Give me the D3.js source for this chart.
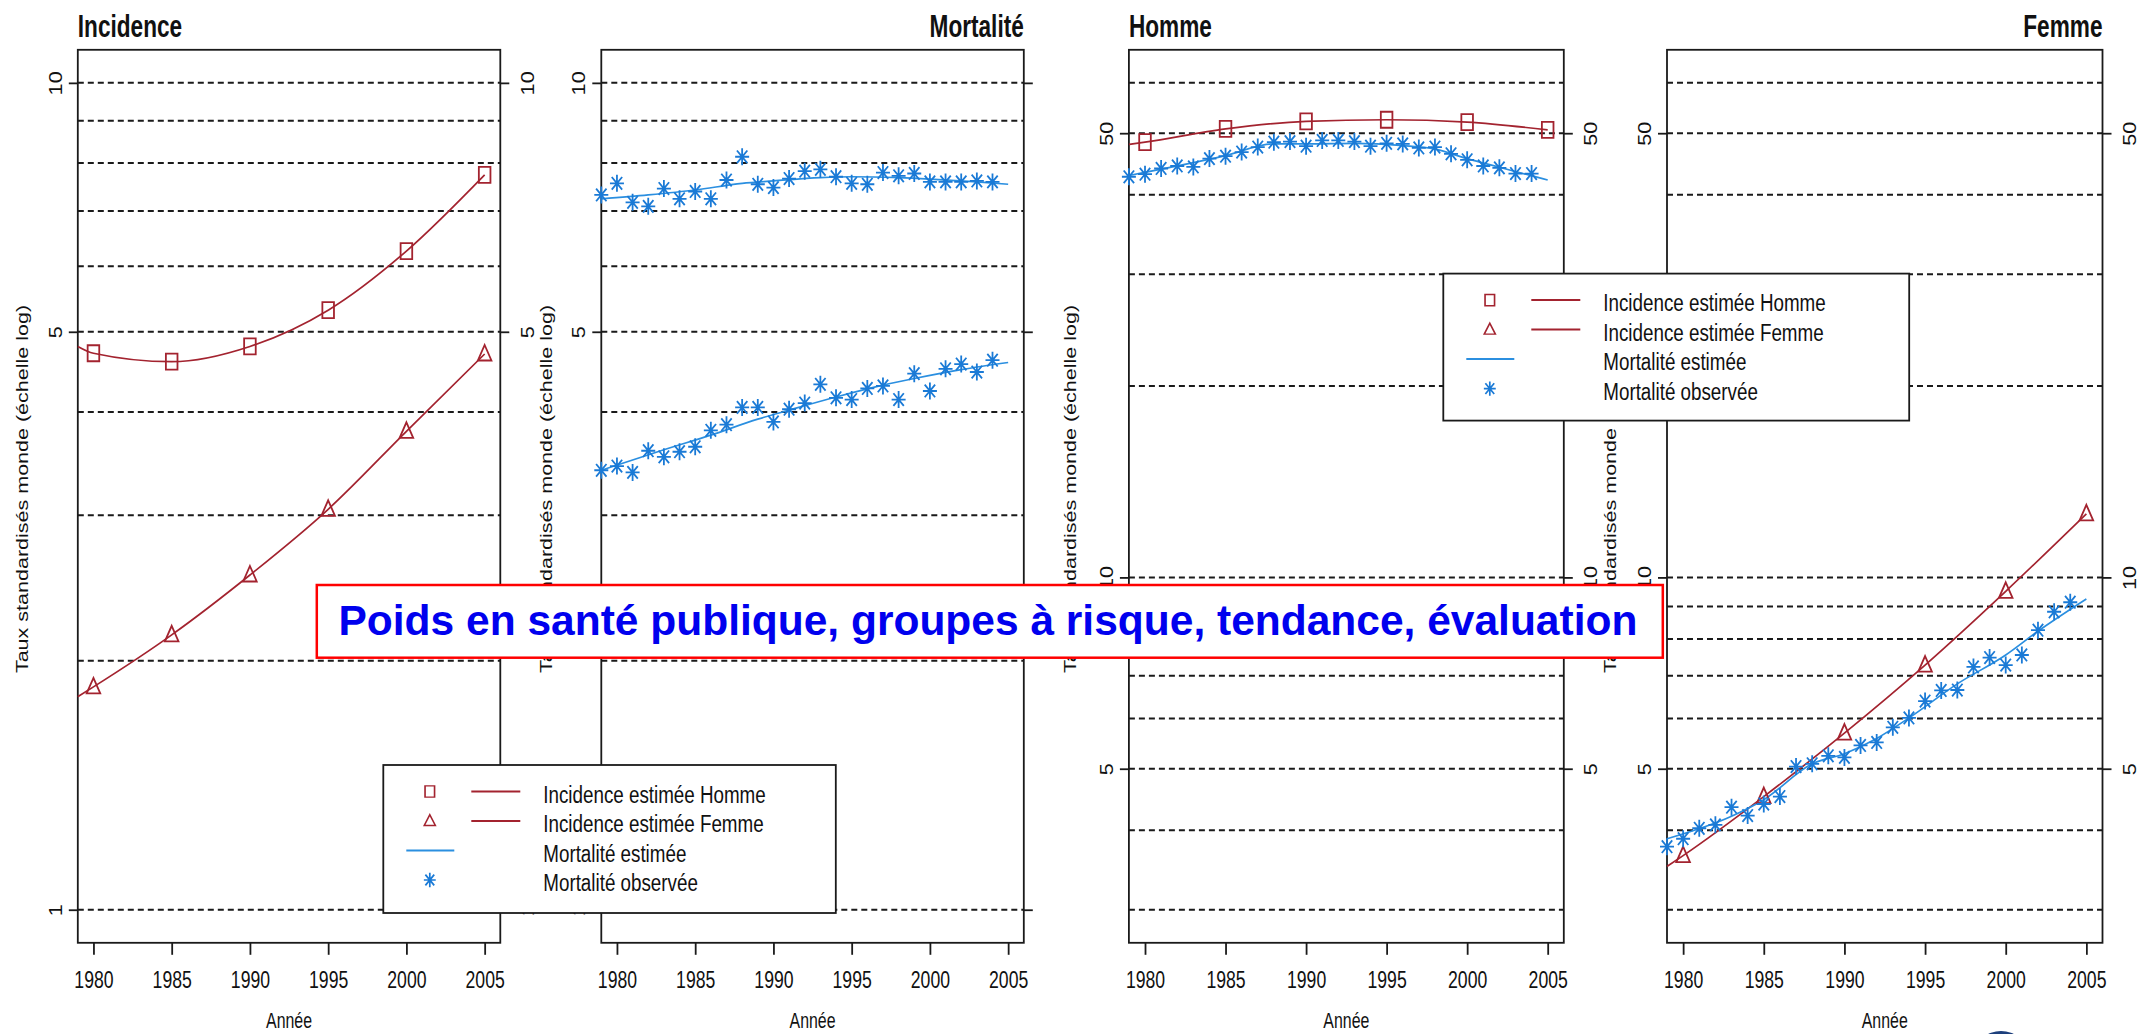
<!DOCTYPE html>
<html>
<head>
<meta charset="utf-8">
<script src="https://cdn.jsdelivr.net/npm/d3@7"></script>
<style>
  html, body { margin: 0; padding: 0; background: #fff; }
  svg { display: block; }
  text { font-family: "Liberation Sans", Arial, sans-serif; fill: #111; }
</style>
</head>
<body>
<div id="chart"></div>
<script>
// ---- Données ----
const anneesTicks = [1980, 1985, 1990, 1995, 2000, 2005];
const anneesInc = [1980, 1985, 1990, 1995, 2000, 2005];
const anneesIncLigne = [1979, 1980, 1985, 1990, 1995, 2000, 2005];
const anneesObs = [1979, 1980, 1981, 1982, 1983, 1984, 1985, 1986, 1987, 1988, 1989, 1990, 1991,
                   1992, 1993, 1994, 1995, 1996, 1997, 1998, 1999, 2000, 2001, 2002, 2003, 2004];

// Panneau Incidence (France)
const incHomme = [4.71, 4.60, 4.80, 5.31, 6.26, 7.74];
const incHommeLigne = [4.80, 4.71, 4.60, 4.80, 5.31, 6.26, 7.74];
const incFemme = [1.86, 2.15, 2.54, 3.05, 3.79, 4.70];
const incFemmeLigne = [1.81, 1.86, 2.15, 2.54, 3.05, 3.79, 4.70];

// Panneau Mortalité
const mortHommeObs = [7.32, 7.56, 7.17, 7.09, 7.45, 7.24, 7.39, 7.24, 7.63, 8.14, 7.54, 7.47, 7.66,
                      7.82, 7.86, 7.70, 7.56, 7.54, 7.79, 7.72, 7.77, 7.59, 7.59, 7.59, 7.61, 7.59];
const mortHommeEstAnnees = [1979, 1982, 1985, 1988, 1990, 1993, 1995, 1998, 2000, 2003, 2005];
const mortHommeEst = [7.24, 7.32, 7.42, 7.56, 7.61, 7.68, 7.70, 7.68, 7.65, 7.59, 7.54];
const mortFemmeObs = [3.40, 3.44, 3.38, 3.59, 3.53, 3.58, 3.63, 3.80, 3.86, 4.05, 4.05, 3.89, 4.03,
                      4.10, 4.32, 4.16, 4.14, 4.27, 4.30, 4.14, 4.45, 4.24, 4.51, 4.57, 4.47, 4.62];
const mortFemmeEstAnnees = [1979, 1983, 1986, 1989, 1991, 1994, 1997, 1999, 2002, 2005];
const mortFemmeEst = [3.40, 3.60, 3.75, 3.92, 4.02, 4.17, 4.31, 4.39, 4.50, 4.59];

// Panneau Homme
const incHomme2 = [48.4, 50.8, 52.2, 52.5, 52.05, 50.6];
const incHomme2Ligne = [48.0, 48.4, 50.8, 52.2, 52.5, 52.05, 50.6];
const mortHomme2Obs = [42.7, 43.1, 44.0, 44.4, 44.25, 45.6, 46.0, 46.7, 47.55, 48.4, 48.5, 47.7, 48.7,
                       48.7, 48.5, 47.7, 48.2, 48.1, 47.4, 47.55, 46.4, 45.4, 44.4, 44.1, 43.2, 43.2];
const mortHomme2EstAnnees = [1979, 1985, 1988, 1990, 1993, 1996, 1998, 2000, 2002, 2005];
const mortHomme2Est = [42.9, 46.1, 48.1, 48.1, 48.2, 47.8, 47.2, 45.6, 44.2, 42.2];

// Panneau Femme
const incFemme2 = [3.65, 4.52, 5.69, 7.28, 9.51, 12.59];
const incFemme2Ligne = [3.51, 3.65, 4.52, 5.69, 7.28, 9.51, 12.59];
const mortFemme2Obs = [3.77, 3.88, 4.03, 4.08, 4.35, 4.22, 4.40, 4.52, 5.04, 5.09, 5.24, 5.21, 5.44,
                       5.50, 5.81, 6.01, 6.39, 6.64, 6.65, 7.23, 7.48, 7.28, 7.55, 8.26, 8.83, 9.14];
const mortFemme2EstAnnees = [1979, 1983, 1985, 1988, 1990, 1992, 1994, 1997, 2000, 2002, 2005];
const mortFemme2Est = [3.88, 4.21, 4.47, 5.09, 5.28, 5.58, 6.01, 6.80, 7.55, 8.23, 9.25];

// Axes log
const grilleBas = [1, 2, 3, 4, 5, 6, 7, 8, 9, 10];
const etiqBas = [1, 5, 10];
const grilleHaut = [3, 4, 5, 6, 7, 8, 9, 10, 20, 30, 40, 50, 60];
const etiqHaut = [5, 10, 50];

const legendeTextes = ["Incidence estimée Homme", "Incidence estimée Femme", "Mortalité estimée", "Mortalité observée"];
const titreY = "Taux standardisés monde (échelle log)";
const bandeau = "Poids en santé publique, groupes à risque, tendance, évaluation";

// ---- Styles ----
const rouge = "#a3232f";
const bleuLigne = "#2b8fe0";
const bleuPoint = "#1a7ad6";
const noir = "#1a1a1a";
const haut = 49.8, bas = 942.8;

const zip = (a, v) => a.map((d, i) => ({ annee: d, val: v[i] }));

const panneaux = [
  { titre: "Incidence", ancre: "start", left: 77.8, right: 500.3, ylim: [1, 10], grille: grilleBas, etiq: etiqBas,
    etiqDroite: true, titreYx: 22,
    lignes: [{ d: zip(anneesIncLigne, incHommeLigne), c: rouge }, { d: zip(anneesIncLigne, incFemmeLigne), c: rouge }],
    points: [{ d: zip(anneesInc, incHomme), f: "carre" }, { d: zip(anneesInc, incFemme), f: "triangle" }] },
  { titre: "Mortalité", ancre: "end", left: 601.3, right: 1023.8, ylim: [1, 10], grille: grilleBas, etiq: etiqBas,
    etiqDroite: false, titreYx: 546,
    lignes: [{ d: zip(mortHommeEstAnnees, mortHommeEst), c: bleuLigne }, { d: zip(mortFemmeEstAnnees, mortFemmeEst), c: bleuLigne }],
    points: [{ d: zip(anneesObs, mortHommeObs), f: "asterisque" }, { d: zip(anneesObs, mortFemmeObs), f: "asterisque" }] },
  { titre: "Homme", ancre: "start", left: 1128.9, right: 1563.8, ylim: [3, 60], grille: grilleHaut, etiq: etiqHaut,
    etiqDroite: true, titreYx: 1070,
    lignes: [{ d: zip(anneesIncLigne, incHomme2Ligne), c: rouge }, { d: zip(mortHomme2EstAnnees, mortHomme2Est), c: bleuLigne }],
    points: [{ d: zip(anneesInc, incHomme2), f: "carre" }, { d: zip(anneesObs, mortHomme2Obs), f: "asterisque" }] },
  { titre: "Femme", ancre: "end", left: 1667.0, right: 2102.5, ylim: [3, 60], grille: grilleHaut, etiq: etiqHaut,
    etiqDroite: true, titreYx: 1610,
    lignes: [{ d: zip(anneesIncLigne, incFemme2Ligne), c: rouge }, { d: zip(mortFemme2EstAnnees, mortFemme2Est), c: bleuLigne }],
    points: [{ d: zip(anneesInc, incFemme2), f: "triangle" }, { d: zip(anneesObs, mortFemme2Obs), f: "asterisque" }] }
];

// formes des symboles (pch 0, 2, 8 de R, étirés verticalement)
const formes = {
  carre: "M-5.8,-8H5.8V8H-5.8Z",
  triangle: "M0,-9L6.8,6.5L-6.8,6.5Z",
  asterisque: "M-7,0H7M0,-8.5V8.5M-5.2,-6.3L5.2,6.3M-5.2,6.3L5.2,-6.3"
};
const couleurForme = { carre: rouge, triangle: rouge, asterisque: bleuPoint };

const svg = d3.select("#chart").append("svg").attr("width", 2138).attr("height", 1034);

function dessinerPanneau(p) {
  const g = svg.append("g");
  const w = p.right - p.left, h = bas - haut;
  const padX = w * 0.04 / 1.08, padY = h * 0.04 / 1.08;
  const x = d3.scaleLinear().domain([1980, 2005]).range([p.left + padX, p.right - padX]);
  const y = d3.scaleLog().domain(p.ylim).range([bas - padY, haut + padY]);

  // lignes de grille pointillées
  g.append("g").selectAll("line").data(p.grille).join("line")
    .attr("x1", p.left).attr("x2", p.right)
    .attr("y1", d => y(d)).attr("y2", d => y(d))
    .attr("stroke", noir).attr("stroke-width", 2).attr("stroke-dasharray", "6,4");

  // cadre
  g.append("rect").attr("x", p.left).attr("y", haut).attr("width", w).attr("height", h)
    .attr("fill", "none").attr("stroke", noir).attr("stroke-width", 1.8);

  // axe X
  const ax = g.append("g").attr("transform", `translate(0,${bas})`)
    .call(d3.axisBottom(x).tickValues(anneesTicks).tickSize(12).tickFormat(d3.format("d")));
  ax.select(".domain").remove();
  ax.selectAll("line").attr("stroke", noir).attr("stroke-width", 1.8);
  ax.selectAll("text").attr("y", null).attr("dy", null)
    .attr("transform", "translate(0,45) scale(0.72,1)")
    .attr("font-size", 24.5).attr("fill", "#111").attr("font-family", null);

  // axes Y (gauche et droite)
  const axG = g.append("g").attr("transform", `translate(${p.left},0)`)
    .call(d3.axisLeft(y).tickValues(p.etiq).tickSize(9).tickFormat(d3.format("d")));
  const axD = g.append("g").attr("transform", `translate(${p.right},0)`)
    .call(d3.axisRight(y).tickValues(p.etiq).tickSize(9).tickFormat(p.etiqDroite ? d3.format("d") : () => ""));
  [[axG, -22.5], [axD, 27]].forEach(([a, dx]) => {
    a.select(".domain").remove();
    a.selectAll("line").attr("stroke", noir).attr("stroke-width", 1.8);
    a.selectAll("text").attr("x", null).attr("dy", null)
      .attr("text-anchor", "middle").attr("dominant-baseline", "central")
      .attr("transform", `translate(${dx},0) scale(1,1.2) rotate(-90)`)
      .attr("font-size", 18).attr("fill", "#222").attr("font-family", null);
  });

  // titre de l'axe Y
  g.append("text").attr("text-anchor", "middle").attr("dominant-baseline", "central")
    .attr("transform", `translate(${p.titreYx},489) scale(1,1.32) rotate(-90)`)
    .attr("font-size", 16.3).attr("fill", "#222").text(titreY);

  // titre de l'axe X
  g.append("text").attr("text-anchor", "middle")
    .attr("transform", `translate(${(p.left + p.right) / 2},1027.5) scale(0.74,1)`)
    .attr("font-size", 21.5).attr("fill", "#222").text("Année");

  // titre du panneau
  g.append("text").attr("text-anchor", p.ancre)
    .attr("transform", `translate(${p.ancre === "start" ? p.left : p.right},37) scale(0.73,1)`)
    .attr("font-size", 31).attr("font-weight", "bold").text(p.titre);

  // courbes estimées
  const ligne = d3.line().x(d => x(d.annee)).y(d => y(d.val)).curve(d3.curveMonotoneX);
  p.lignes.forEach(s => {
    g.append("path").datum(s.d).attr("d", ligne)
      .attr("fill", "none").attr("stroke", s.c).attr("stroke-width", 1.7);
  });

  // points
  p.points.forEach(s => {
    g.append("g").selectAll("path").data(s.d).join("path")
      .attr("transform", d => `translate(${x(d.annee)},${y(d.val)})`)
      .attr("d", formes[s.f])
      .attr("fill", "none").attr("stroke", couleurForme[s.f]).attr("stroke-width", 1.8);
  });
}

panneaux.forEach(dessinerPanneau);

// ---- Légendes ----
function dessinerLegende(x0, y0, x1, y1) {
  const g = svg.append("g");
  g.append("rect").attr("x", x0).attr("y", y0).attr("width", x1 - x0).attr("height", y1 - y0)
    .attr("fill", "#fff").attr("stroke", noir).attr("stroke-width", 1.8);
  const ry = d3.scalePoint().domain(legendeTextes).range([y0 + 26.5, y0 + 115]);
  const sx = x0 + 46.5;
  // symboles et traits
  [["carre", 0], ["triangle", 1]].forEach(([f, i]) => {
    g.append("path").attr("transform", `translate(${sx},${ry(legendeTextes[i])}) scale(0.82,0.7)`)
      .attr("d", formes[f]).attr("fill", "none").attr("stroke", rouge).attr("stroke-width", 2);
    g.append("line").attr("x1", x0 + 88).attr("x2", x0 + 137)
      .attr("y1", ry(legendeTextes[i])).attr("y2", ry(legendeTextes[i]))
      .attr("stroke", rouge).attr("stroke-width", 2);
  });
  g.append("line").attr("x1", x0 + 23).attr("x2", x0 + 71)
    .attr("y1", ry(legendeTextes[2])).attr("y2", ry(legendeTextes[2]))
    .attr("stroke", bleuLigne).attr("stroke-width", 2);
  g.append("path").attr("transform", `translate(${sx},${ry(legendeTextes[3])}) scale(0.85,0.85)`)
    .attr("d", formes.asterisque).attr("fill", "none").attr("stroke", bleuPoint).attr("stroke-width", 2);
  g.selectAll("text").data(legendeTextes).join("text")
    .attr("transform", d => `translate(${x0 + 160},${ry(d) + 11}) scale(0.8,1)`)
    .attr("font-size", 23.5).attr("fill", "#222").text(d => d);
}
dessinerLegende(383.3, 765, 835.8, 913);
dessinerLegende(1443.3, 273.6, 1909.2, 420.6);

// ---- Bandeau ----
svg.append("rect").attr("x", 316.8).attr("y", 585).attr("width", 1662.8 - 316.8).attr("height", 72.7)
  .attr("fill", "#fff").attr("stroke", "#ff0000").attr("stroke-width", 2.5);
svg.append("text").attr("x", 338.5).attr("y", 635)
  .attr("font-size", 42.5).attr("font-weight", "bold").style("fill", "#0000ee").text(bandeau);

// logo partiellement visible en bas à droite
svg.append("ellipse").attr("cx", 2001).attr("cy", 1054).attr("rx", 26).attr("ry", 23).attr("fill", "#1d3f7c");
</script>
</body>
</html>
